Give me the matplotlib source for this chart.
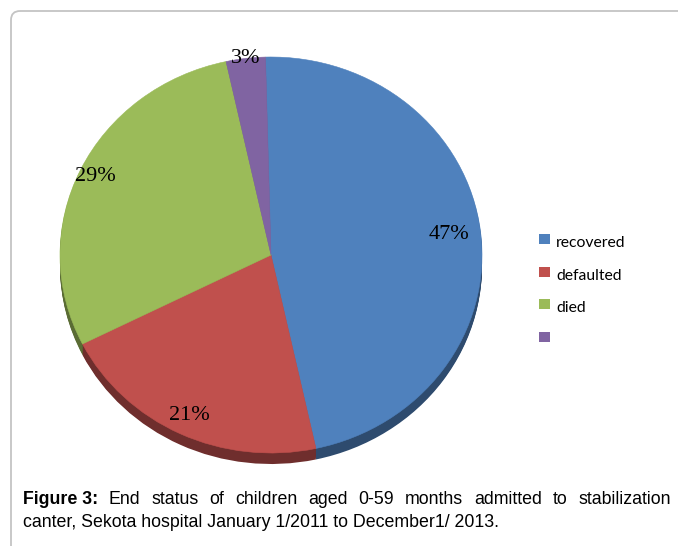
import numpy as np
import matplotlib
matplotlib.use("Agg")
import matplotlib.pyplot as plt
from matplotlib.patches import FancyBboxPatch, Rectangle

# ---------------------------------------------------------
# DATOS
# ---------------------------------------------------------
estados = ["recovered", "defaulted", "died", ""]
porcentajes = [47, 21, 29, 3]
etiquetas = ["47%", "21%", "29%", "3%"]
colores = ["#4F81BD", "#C0504D", "#9BBB59", "#8064A2"]

leyenda_titulo = "Figure 3:"
leyenda_linea1 = "End status of children aged 0-59 months admitted to stabilization"
leyenda_linea2 = "canter, Sekota hospital January 1/2011 to December1/ 2013."

# ---------------------------------------------------------
# FIGURA
# ---------------------------------------------------------
W, H = 678, 546
fig = plt.figure(figsize=(W / 100, H / 100), dpi=100)

fondo = fig.add_axes([0, 0, 1, 1])
fondo.set_xlim(0, W)
fondo.set_ylim(H, 0)
fondo.axis("off")

marco = FancyBboxPatch((11, 11), 720, 600,
                       boxstyle="round,pad=0,rounding_size=9",
                       fill=False, edgecolor="#c4c4c4", linewidth=1.3)
fondo.add_patch(marco)

# ---------------------------------------------------------
# PASTEL "3D"
# ---------------------------------------------------------
cx, cy, rx, ry, prof = 271, 255, 211, 198, 11

ax = fig.add_axes([(cx - rx) / W, (H - (cy + ry + prof)) / H,
                   2 * rx / W, (2 * ry + prof) / H])

oscuros = []
for c in colores:
    rgb = np.array(matplotlib.colors.to_rgb(c))
    oscuros.append(tuple(rgb * 0.58))

inicio = 91.5

for k in np.linspace(prof, 1, 12):
    ax.pie(porcentajes, colors=oscuros, startangle=inicio, counterclock=False,
           center=(0, -k / ry), radius=1,
           wedgeprops=dict(linewidth=0))

wedges, _ = ax.pie(porcentajes, colors=colores, startangle=inicio,
                   counterclock=False, radius=1,
                   wedgeprops=dict(linewidth=0.4))
for w, c in zip(wedges, colores):
    w.set_edgecolor(c)

ax.set_aspect("auto")
ax.set_xlim(-1, 1)
ax.set_ylim(-1 - prof / ry, 1)
ax.axis("off")

frac = np.array(porcentajes) / sum(porcentajes)
medio = np.deg2rad(inicio - 360 * (np.cumsum(frac) - frac / 2))
distancia = [0.85, 0.9, 0.92, 1.0]

for ang, d, txt in zip(medio, distancia, etiquetas):
    ax.text(d * np.cos(ang), d * np.sin(ang), txt, ha="center", va="center",
            family="Liberation Serif", fontsize=16, color="black")

# ---------------------------------------------------------
# LEYENDA (cuadros y textos)
# ---------------------------------------------------------
for i, (est, col) in enumerate(zip(estados, colores)):
    y = 234 + 32.5 * i
    fondo.add_patch(Rectangle((539, y), 11, 10, facecolor=col, edgecolor="none"))
    fondo.text(556, y + 13, est, family="Lato", fontsize=11.3,
               va="baseline", ha="left", color="black")

# ---------------------------------------------------------
# PIE DE FIGURA (justificado)
# ---------------------------------------------------------
renderer = fig.canvas.get_renderer()
tam = 12.8


def justificar(tokens, y, x0, x1):
    textos = []
    for palabra, peso in tokens:
        t = fondo.text(0, y, palabra, fontsize=tam, family="Liberation Sans",
                       weight=peso, va="baseline", ha="left")
        textos.append(t)
    anchos = [t.get_window_extent(renderer).width for t in textos]
    hueco = (x1 - x0 - sum(anchos)) / (len(textos) - 1)
    x = x0
    for t, a in zip(textos, anchos):
        t.set_x(x)
        x += a + hueco


tokens1 = [(leyenda_titulo, "bold")] + [(p, "normal") for p in leyenda_linea1.split()]
justificar(tokens1, 504, 23, 671)

fondo.text(23, 527, leyenda_linea2, fontsize=tam, family="Liberation Sans",
           va="baseline", ha="left")

plt.savefig("out.png", dpi=100)
